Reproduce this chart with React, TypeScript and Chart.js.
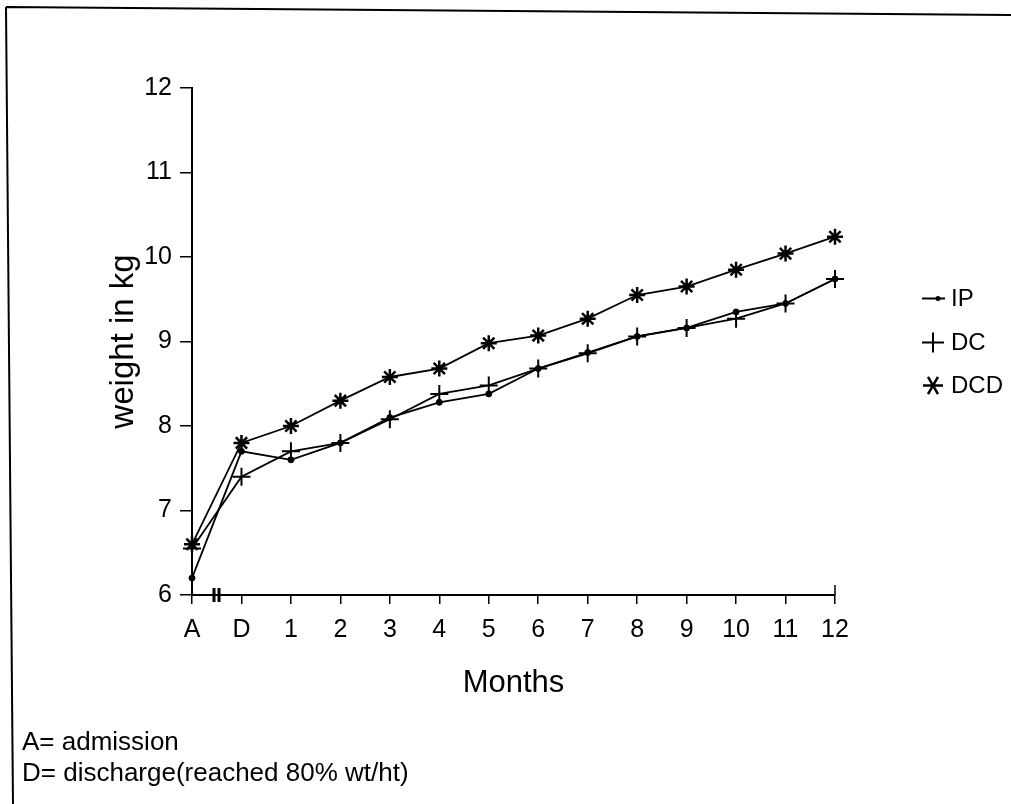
import React, { useEffect, useRef } from "react";
import { Chart, registerables } from "chart.js";

Chart.register(...registerables);

const categories = ["A", "D", "1", "2", "3", "4", "5", "6", "7", "8", "9", "10", "11", "12"];
const ipValues = [6.2, 7.7, 7.6, 7.8, 8.1, 8.28, 8.38, 8.68, 8.87, 9.06, 9.16, 9.35, 9.45, 9.74];
const dcValues = [6.55, 7.4, 7.7, 7.8, 8.08, 8.38, 8.48, 8.68, 8.86, 9.06, 9.16, 9.27, 9.45, 9.74];
const dcdValues = [6.6, 7.8, 8.0, 8.3, 8.58, 8.68, 8.98, 9.07, 9.27, 9.55, 9.65, 9.85, 10.04, 10.24];
const seriesNames = ["IP", "DC", "DCD"];
const footnotes = ["A= admission", "D= discharge(reached 80% wt/ht)"];
const yTitle = "weight in kg";
const xTitle = "Months";

const FONT = "'Liberation Sans', Arial, Helvetica, sans-serif";

const decorPlugin = {
  id: "decor",
  afterDraw(chart: any) {
    const ctx = chart.ctx;
    const area = chart.chartArea;
    ctx.save();
    ctx.strokeStyle = "#000";
    ctx.fillStyle = "#000";
    // frame (top and left)
    ctx.lineWidth = 2;
    ctx.beginPath();
    ctx.moveTo(6, 7);
    ctx.lineTo(1011, 15);
    ctx.moveTo(6, 7);
    ctx.lineTo(13, 804);
    ctx.stroke();

    // axis break marks
    ctx.lineWidth = 3;
    ctx.beginPath();
    ctx.moveTo(area.left + 22, area.bottom - 7);
    ctx.lineTo(area.left + 22, area.bottom + 7);
    ctx.moveTo(area.left + 27, area.bottom - 7);
    ctx.lineTo(area.left + 27, area.bottom + 7);
    ctx.stroke();

    // end tick at right of x axis
    ctx.lineWidth = 1.5;
    ctx.beginPath();
    ctx.moveTo(area.right, area.bottom);
    ctx.lineTo(area.right, area.bottom - 10);
    ctx.stroke();

    // legend
    const yMid = (area.top + area.bottom) / 2;
    const rows = [yMid - 43, yMid + 1, yMid + 44];
    const sx = 933;
    ctx.font = `24px ${FONT}`;
    ctx.textBaseline = "middle";
    ctx.textAlign = "left";
    rows.forEach((y, i) => {
      ctx.lineWidth = 2;
      ctx.beginPath();
      if (i === 0) {
        ctx.moveTo(sx - 11, y);
        ctx.lineTo(sx + 12, y);
        ctx.stroke();
        ctx.beginPath();
        ctx.arc(sx + 5, y, 2.5, 0, Math.PI * 2);
        ctx.fill();
      } else if (i === 1) {
        ctx.moveTo(sx - 11, y);
        ctx.lineTo(sx + 11, y);
        ctx.moveTo(sx, y - 10);
        ctx.lineTo(sx, y + 10);
        ctx.stroke();
      } else {
        const r = 10;
        for (let k = 0; k < 3; k++) {
          const a = (k * Math.PI) / 3;
          ctx.moveTo(sx - r * Math.cos(a), y - r * Math.sin(a));
          ctx.lineTo(sx + r * Math.cos(a), y + r * Math.sin(a));
        }
        ctx.lineWidth = 2.5;
        ctx.stroke();
      }
      ctx.fillText(seriesNames[i], sx + 18, y + 1);
    });

    // footnotes
    ctx.font = `26px ${FONT}`;
    ctx.textBaseline = "alphabetic";
    ctx.fillText(footnotes[0], 22, 750);
    ctx.fillText(footnotes[1], 22, 781);
    ctx.restore();
  },
};

export default function App() {
  const canvasRef = useRef<HTMLCanvasElement | null>(null);

  useEffect(() => {
    const canvas = canvasRef.current;
    if (!canvas) return;
    const common = {
      borderColor: "#000",
      backgroundColor: "#000",
      pointBorderColor: "#000",
      pointBackgroundColor: "#000",
      borderWidth: 1.8,
      tension: 0,
      fill: false,
    };
    const chart = new Chart(canvas, {
      type: "line",
      data: {
        labels: categories,
        datasets: [
          { ...common, label: seriesNames[0], data: ipValues, pointStyle: "circle", pointRadius: 3, pointBorderWidth: 1 },
          { ...common, label: seriesNames[1], data: dcValues, pointStyle: "cross", pointRadius: 9, pointBorderWidth: 2 },
          { ...common, label: seriesNames[2], data: dcdValues, pointStyle: "star", pointRadius: 8, pointBorderWidth: 2.5 },
        ],
      },
      options: {
        responsive: false,
        animation: false,
        devicePixelRatio: 1,
        layout: { padding: { left: 100, top: 88, right: 176, bottom: 94 } },
        plugins: {
          legend: { display: false },
          tooltip: { enabled: false },
        },
        scales: {
          x: {
            type: "category",
            offset: false,
            grid: { drawOnChartArea: false, drawTicks: true, tickLength: 9, color: "#000", lineWidth: 1.5 },
            border: { display: true, color: "#000", width: 2 },
            ticks: { color: "#000", font: { family: FONT, size: 25 }, padding: 11, maxRotation: 0, autoSkip: false },
            title: { display: true, text: xTitle, color: "#000", font: { family: FONT, size: 31 }, padding: { top: 0, bottom: 8 } },
            afterFit(scale: any) {
              scale.height = 115;
            },
          },
          y: {
            min: 6,
            max: 12,
            grid: { drawOnChartArea: false, drawTicks: true, tickLength: 12, color: "#000", lineWidth: 1.5 },
            border: { display: true, color: "#000", width: 2 },
            ticks: { stepSize: 1, color: "#000", font: { family: FONT, size: 25 }, padding: 8 },
            title: { display: true, text: yTitle, color: "#000", font: { family: FONT, size: 33 }, padding: { top: 4, bottom: 0 } },
            afterFit(scale: any) {
              scale.width = 92;
            },
          },
        },
      },
      plugins: [decorPlugin],
    } as any);
    return () => chart.destroy();
  }, []);

  return (
    <div style={{ position: "absolute", left: 0, top: 0, width: 1011, height: 804, background: "#fff" }}>
      <canvas ref={canvasRef} width={1011} height={804} />
    </div>
  );
}
